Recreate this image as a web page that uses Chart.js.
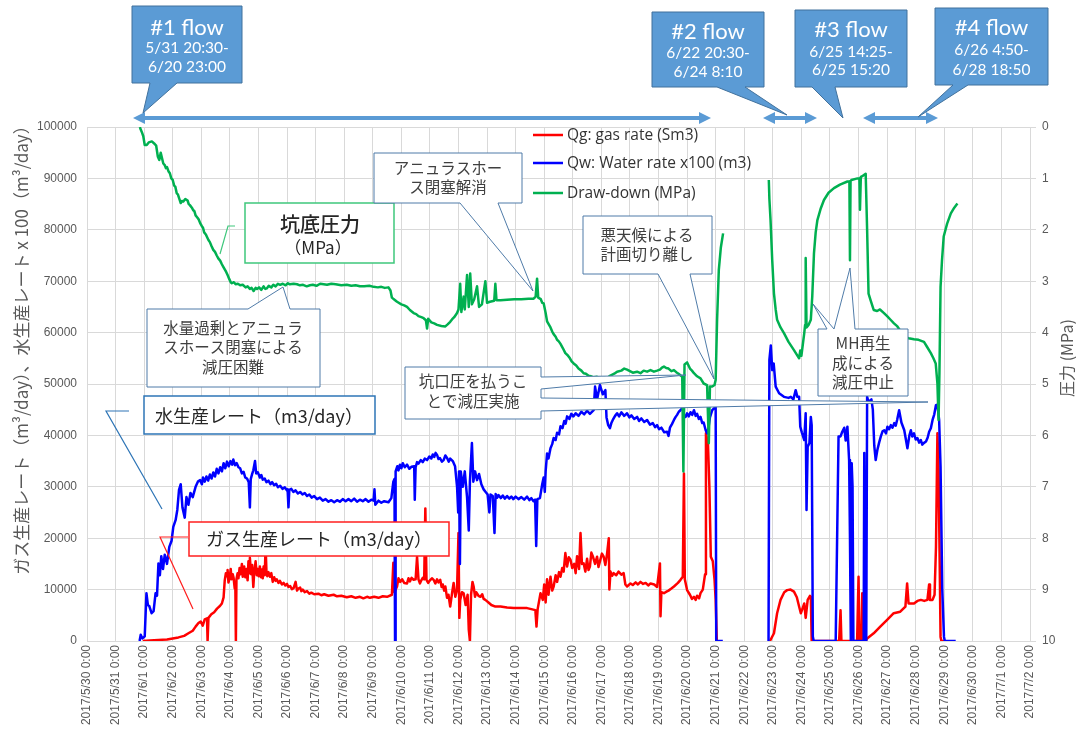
<!DOCTYPE html>
<html>
<head>
<meta charset="utf-8">
<script src="https://cdn.jsdelivr.net/npm/chart.js@4/dist/chart.umd.min.js"></script>
<style>
  html, body { margin: 0; padding: 0; background: #ffffff; }
  #wrap { width: 1076px; height: 737px; position: relative; }
</style>
</head>
<body>
<div id="wrap"><canvas id="c" width="1076" height="737"></canvas></div>
<script>
// Day ticks, counted in days from 2017/5/30 0:00
const tickLabels = [
  "2017/5/30 0:00", "2017/5/31 0:00", "2017/6/1 0:00", "2017/6/2 0:00", "2017/6/3 0:00",
  "2017/6/4 0:00", "2017/6/5 0:00", "2017/6/6 0:00", "2017/6/7 0:00", "2017/6/8 0:00",
  "2017/6/9 0:00", "2017/6/10 0:00", "2017/6/11 0:00", "2017/6/12 0:00", "2017/6/13 0:00",
  "2017/6/14 0:00", "2017/6/15 0:00", "2017/6/16 0:00", "2017/6/17 0:00", "2017/6/18 0:00",
  "2017/6/19 0:00", "2017/6/20 0:00", "2017/6/21 0:00", "2017/6/22 0:00", "2017/6/23 0:00",
  "2017/6/24 0:00", "2017/6/25 0:00", "2017/6/26 0:00", "2017/6/27 0:00", "2017/6/28 0:00",
  "2017/6/29 0:00", "2017/6/30 0:00", "2017/7/1 0:00", "2017/7/2 0:00"
];

// Qg: gas rate (Sm3) — [day, m3/day]
const gasRate = [
  [1.95,0],[2.20,100],[2.50,200],[2.80,300],[3.00,500],[3.20,700],[3.40,1000],[3.55,1500],[3.70,2000],
  [3.80,2800],[3.90,3500],[3.98,3800],[4.05,3000],[4.12,4200],[4.20,4400],[4.22,0],[4.25,4500],[4.35,5200],
  [4.45,5600],[4.55,6300],[4.65,6800],[4.72,7300],[4.78,8500],[4.82,11800],[4.86,13200],[4.90,12600],
  [4.92,13800],[4.95,11400],[4.99,12200],[5.03,14000],[5.06,12000],[5.10,13000],[5.13,12300],[5.17,10200],
  [5.19,11500],[5.21,0],[5.23,12000],[5.27,13200],[5.30,12200],[5.34,14200],[5.38,13000],[5.42,15000],
  [5.45,12500],[5.50,14500],[5.54,12400],[5.58,14000],[5.62,11800],[5.65,15500],[5.68,13200],[5.70,16200],
  [5.74,13000],[5.78,14800],[5.82,10500],[5.85,13200],[5.90,15500],[5.94,12800],[5.97,14000],[6.01,12600],
  [6.05,14500],[6.09,12400],[6.12,13900],[6.15,12200],[6.18,14500],[6.22,12800],[6.25,18500],[6.28,13500],
  [6.31,12600],[6.35,13400],[6.40,12500],[6.45,13200],[6.50,11500],[6.55,12400],[6.60,11700],[6.64,12000],
  [6.70,11300],[6.75,11700],[6.82,11000],[6.88,11300],[6.94,10800],[7.00,11100],[7.05,10500],[7.11,10700],
  [7.17,10100],[7.23,10300],[7.30,11500],[7.35,9800],[7.40,10200],[7.46,10400],[7.50,9700],[7.55,10000],
  [7.62,9500],[7.70,9700],[7.78,9200],[7.85,9400],[7.95,9100],[8.10,9200],[8.20,8900],[8.30,9100],
  [8.45,8800],[8.63,9000],[8.75,8700],[8.90,8800],[9.09,8500],[9.25,8700],[9.40,8400],[9.55,8600],
  [9.67,8300],[9.80,8600],[9.90,8400],[10.05,8600],[10.20,8400],[10.35,8700],[10.50,8600],
  [10.67,9000],[10.72,15200],[10.76,9500],[10.85,10600],[10.90,12200],[10.96,11500],[11.03,12000],[11.10,11300],
  [11.20,11200],[11.25,12200],[11.30,11600],[11.36,12300],[11.43,11900],[11.50,12000],[11.55,16400],[11.60,12000],
  [11.65,11200],[11.70,11800],[11.75,12300],[11.80,12000],[11.84,25800],[11.88,11900],[11.94,11300],
  [12.00,11800],[12.07,12200],[12.13,11900],[12.19,11200],[12.25,12000],[12.30,11400],[12.36,11900],
  [12.41,10500],[12.45,11000],[12.50,9800],[12.54,10600],[12.60,8400],[12.65,9000],[12.71,6700],[12.78,9500],
  [12.83,11300],[12.89,8600],[12.95,10000],[13.00,21000],[13.03,4500],[13.06,8000],[13.12,9500],[13.18,9300],
  [13.25,7000],[13.32,9000],[13.36,2200],[13.40,0],[13.44,9000],[13.49,11500],[13.53,10600],[13.58,8600],
  [13.62,9500],[13.70,8800],[13.77,8600],[13.83,9100],[13.88,8200],[13.94,8000],[14.05,7500],[14.15,7000],
  [14.29,6700],[14.47,6700],[14.70,6500],[14.93,6400],[15.20,6400],[15.40,6400],[15.55,6200],
  [15.69,6000],[15.73,2800],[15.77,6200],[15.87,9300],[15.95,8000],[16.00,11000],[16.05,7500],[16.10,12000],
  [16.15,9000],[16.22,12500],[16.28,9800],[16.33,10600],[16.40,12800],[16.45,11500],[16.52,13400],
  [16.57,12500],[16.63,14200],[16.68,13500],[16.74,17100],[16.80,14500],[16.86,16300],[16.92,15800],
  [16.98,14200],[17.05,15000],[17.10,13200],[17.15,16500],[17.22,14000],[17.27,21000],[17.32,15000],
  [17.38,15100],[17.44,13500],[17.50,16000],[17.55,13800],[17.60,14500],[17.65,17200],[17.70,16500],
  [17.78,15000],[17.85,16400],[17.90,14400],[17.95,15500],[18.02,17000],[18.08,16400],[18.14,14800],
  [18.20,17000],[18.26,20000],[18.28,10000],[18.32,13500],[18.38,12700],[18.43,13200],[18.52,12800],
  [18.60,13500],[18.70,12900],[18.78,13200],[18.84,11000],[18.90,10600],[19.02,11200],[19.10,10900],
  [19.20,11400],[19.28,11000],[19.37,11500],[19.46,11100],[19.55,11300],[19.64,10800],[19.72,11200],
  [19.85,11000],[19.95,10500],[20.05,15100],[20.07,4800],[20.10,9500],[20.19,9300],[20.28,9600],[20.35,9800],
  [20.45,10200],[20.54,10600],[20.68,11300],[20.77,11900],[20.85,12500],[20.89,32600],[20.92,12000],[21.00,9900],
  [21.10,9000],[21.17,8200],[21.24,8600],[21.30,8000],[21.35,8800],[21.42,8300],[21.47,9300],[21.55,10000],
  [21.63,13000],[21.66,40400],[21.73,38500],[21.78,30000],[21.83,16400],[21.90,15500],[21.96,12000],
  [22.00,8000],[22.04,0],
  [23.00,null],
  [23.90,0],[24.04,1500],[24.15,5400],[24.27,8000],[24.40,9500],[24.50,9900],[24.62,10000],[24.74,9600],
  [24.84,8500],[24.92,6700],[24.98,5400],[25.05,6500],[25.10,7300],[25.15,4500],[25.22,8000],[25.30,8800],
  [25.33,8600],[25.36,0],[26.32,0],[26.37,6000],[26.40,0],[26.95,0],[27.00,12500],[27.03,0],[27.10,0],
  [27.13,9300],[27.16,0],[27.25,0],[27.30,500],[27.53,1500],[27.76,2800],[28.00,4100],[28.23,5400],
  [28.46,5700],[28.64,6700],[28.70,11200],[28.75,7300],[28.94,7300],[29.06,7800],[29.18,8000],[29.30,7800],
  [29.41,8000],[29.47,11000],[29.50,8000],[29.59,8000],[29.66,9000],[29.71,18300],[29.76,40400],
  [29.80,33300],[29.84,15000],[29.87,800],[29.90,0],[30.00,0]
];

// Qw: water rate x100 (m3) — [day, m3/day]
const waterRate = [
  [1.84,0],[1.88,1200],[1.94,500],[2.02,900],[2.08,9300],[2.13,7000],[2.18,6800],[2.26,5400],[2.33,5800],
  [2.40,9300],[2.45,8800],[2.50,15100],[2.55,12800],[2.60,16500],[2.66,14000],[2.72,16800],[2.80,15000],
  [2.88,18300],[2.96,19500],[3.02,22200],[3.10,23500],[3.16,25500],[3.22,29400],[3.28,30500],[3.34,26000],
  [3.42,24000],[3.48,28000],[3.55,26500],[3.62,28800],[3.70,28000],[3.80,30000],[3.88,31000],[3.96,31300],
  [4.02,30500],[4.06,31800],[4.12,31000],[4.18,32000],[4.24,31200],[4.30,32400],[4.36,31600],[4.42,32800],
  [4.48,32000],[4.54,33500],[4.60,32600],[4.66,33800],[4.72,33000],[4.78,34600],[4.84,33600],[4.90,34900],
  [4.96,34000],[5.02,35000],[5.08,34300],[5.12,35300],[5.18,34200],[5.24,34600],[5.30,33800],[5.36,33600],
  [5.42,32600],[5.48,32900],[5.54,31800],[5.60,31600],[5.66,30900],[5.70,26000],[5.73,31500],[5.78,32500],
  [5.82,33200],[5.88,35000],[5.92,32600],[5.98,32800],[6.05,31800],[6.10,32300],[6.15,31400],[6.22,31600],
  [6.28,30900],[6.35,31200],[6.42,30500],[6.48,30900],[6.55,30300],[6.62,30600],[6.68,29900],[6.76,30200],
  [6.84,29600],[6.92,29900],[7.00,29300],[7.02,29500],[7.05,26000],[7.08,29400],[7.15,29600],[7.22,29000],
  [7.30,29300],[7.38,28700],[7.46,29000],[7.54,28500],[7.62,28800],[7.70,28200],[7.78,28500],[7.86,27900],
  [7.95,28200],[8.05,27600],[8.15,27900],[8.25,27300],[8.35,27600],[8.45,27100],[8.55,27400],[8.65,27000],
  [8.75,27400],[8.85,27100],[8.95,27600],[9.05,27200],[9.15,27600],[9.25,27200],[9.35,27700],[9.45,27100],
  [9.55,27500],[9.65,27200],[9.75,27600],[9.85,27100],[9.95,27500],[10.03,27300],[10.06,29500],[10.09,26500],
  [10.20,27300],[10.30,26900],[10.40,27200],[10.55,27000],[10.65,27800],[10.72,31000],[10.76,31500],
  [10.78,0],[10.80,33000],[10.86,34000],[10.90,33200],[10.95,34300],[11.00,33600],[11.05,34600],[11.12,33800],
  [11.20,34300],[11.28,33500],[11.35,33900],[11.45,34000],[11.47,27500],[11.50,33800],[11.55,34800],
  [11.60,34500],[11.68,35200],[11.75,34800],[11.82,35500],[11.90,35200],[11.98,35900],[12.05,35500],
  [12.10,36300],[12.15,35800],[12.20,36600],[12.25,36200],[12.30,35400],[12.35,35600],[12.42,34900],
  [12.48,35200],[12.54,36100],[12.60,35600],[12.66,34900],[12.71,35500],[12.80,35000],[12.88,34000],
  [12.95,30000],[12.99,25000],[13.02,33000],[13.05,15000],[13.08,33000],[13.15,30000],[13.22,33000],
  [13.30,28000],[13.36,21500],[13.40,31000],[13.47,38500],[13.52,31000],[13.58,33000],[13.65,31300],
  [13.72,32500],[13.80,30500],[13.88,29500],[13.95,29000],[14.02,28500],[14.08,25000],[14.12,28500],
  [14.20,28200],[14.26,21000],[14.30,28600],[14.36,27900],[14.40,28400],[14.48,27800],[14.55,28300],
  [14.62,27700],[14.70,28200],[14.78,27700],[14.85,28100],[14.92,27600],[15.00,28100],[15.10,27600],
  [15.20,28000],[15.30,27500],[15.40,28100],[15.48,27400],[15.55,27800],[15.62,27200],[15.68,27500],
  [15.72,18500],[15.76,27600],[15.85,27800],[15.93,30500],[15.98,31800],[16.02,29000],[16.05,33000],
  [16.10,36500],[16.15,35500],[16.22,37500],[16.28,38300],[16.33,39500],[16.40,39100],[16.45,40500],
  [16.52,40200],[16.57,41800],[16.64,41400],[16.70,42800],[16.75,42300],[16.80,43700],[16.88,43200],
  [16.95,44200],[17.02,43700],[17.10,44300],[17.20,43800],[17.30,44600],[17.40,44100],[17.50,44800],
  [17.60,44200],[17.73,44900],[17.78,49500],[17.85,47000],[17.95,49800],[18.05,48000],[18.14,48800],
  [18.18,43500],[18.24,42000],[18.30,41400],[18.35,42400],[18.40,43000],[18.48,43800],[18.55,44300],
  [18.62,43700],[18.70,44500],[18.80,43800],[18.90,44300],[18.98,43500],[19.05,43900],[19.15,43200],
  [19.25,43600],[19.32,42800],[19.40,43300],[19.50,42600],[19.60,43000],[19.70,42100],[19.80,42400],
  [19.88,41600],[19.95,42000],[20.02,41200],[20.10,41500],[20.20,40600],[20.30,40700],[20.35,39900],
  [20.40,41500],[20.47,42200],[20.54,43000],[20.60,43600],[20.65,44000],[20.71,44600],[20.77,44900],
  [20.85,45500],[20.89,44000],[20.95,43600],[21.00,44300],[21.06,43700],[21.12,44500],[21.18,44000],
  [21.24,44900],[21.30,43800],[21.35,44200],[21.41,43200],[21.47,43600],[21.53,42400],[21.58,42500],
  [21.65,41000],[21.70,40400],[21.75,41500],[21.80,43500],[21.88,44900],[21.95,45300],[22.00,45500],
  [22.02,0],[22.25,0],
  [23.00,null],
  [23.85,0],[23.88,54700],[23.93,57500],[23.98,52700],[24.03,54000],[24.10,49500],[24.22,48200],
  [24.39,47500],[24.55,47300],[24.63,47500],[24.72,47000],[24.80,48800],[24.86,47500],[24.92,47500],
  [24.96,41700],[25.02,40500],[25.10,39100],[25.15,44300],[25.18,25500],[25.22,37800],[25.28,38500],
  [25.33,43600],[25.36,42000],[25.40,900],[25.43,0],[26.20,0],[26.24,15800],[26.30,39800],[26.37,39800],
  [26.43,40700],[26.50,41500],[26.55,39000],[26.61,41700],[26.67,35200],[26.70,20000],[26.73,0],
  [26.76,34600],[26.79,30000],[26.82,0],[27.18,0],[27.20,36600],[27.23,0],[27.27,0],[27.30,47500],
  [27.35,46500],[27.45,47000],[27.50,45000],[27.55,38000],[27.60,35200],[27.66,37200],[27.72,38600],
  [27.78,39800],[27.84,40800],[27.90,41000],[27.96,40400],[28.01,41700],[28.07,41200],[28.13,42000],
  [28.19,41500],[28.25,42400],[28.30,41900],[28.35,43000],[28.42,44900],[28.50,42500],[28.60,41000],
  [28.71,37500],[28.78,40000],[28.83,41000],[28.88,39800],[28.94,40400],[29.00,39200],[29.06,39500],
  [29.12,38600],[29.18,39100],[29.23,38200],[29.28,38500],[29.36,38800],[29.42,39600],[29.47,40700],
  [29.53,41400],[29.59,43000],[29.65,44100],[29.71,45900],[29.76,46000],[29.82,43000],[29.87,33900],
  [29.93,10000],[29.99,800],[30.02,0],[30.40,0]
];

// Draw-down (MPa) — [day, MPa]
const drawDown = [
  [1.85,0],[1.88,0.05],[1.92,0.10],[1.97,0.18],[2.02,0.35],[2.09,0.35],[2.16,0.30],[2.27,0.28],[2.35,0.32],
  [2.42,0.36],[2.48,0.58],[2.53,0.64],[2.58,0.50],[2.67,0.71],[2.72,0.74],[2.76,0.80],[2.80,0.78],
  [2.85,0.86],[2.90,0.90],[2.95,1.00],[3.00,1.03],[3.05,1.14],[3.09,1.16],[3.14,1.29],[3.18,1.31],
  [3.22,1.38],[3.28,1.48],[3.32,1.44],[3.37,1.45],[3.44,1.40],[3.52,1.43],[3.56,1.50],[3.60,1.52],
  [3.67,1.57],[3.72,1.62],[3.76,1.64],[3.80,1.72],[3.86,1.76],[3.91,1.80],[3.96,1.87],[4.02,1.93],
  [4.06,1.96],[4.10,2.05],[4.16,2.09],[4.20,2.14],[4.25,2.20],[4.30,2.24],[4.36,2.32],[4.42,2.39],
  [4.48,2.43],[4.54,2.50],[4.60,2.56],[4.66,2.60],[4.72,2.67],[4.77,2.72],[4.82,2.77],[4.87,2.82],
  [4.92,2.88],[4.98,2.96],[5.03,3.02],[5.07,3.04],[5.14,3.02],[5.20,3.06],[5.28,3.05],[5.36,3.08],
  [5.45,3.07],[5.55,3.12],[5.62,3.10],[5.70,3.15],[5.76,3.13],[5.83,3.19],[5.90,3.13],[5.95,3.15],
  [6.02,3.12],[6.10,3.17],[6.18,3.10],[6.24,3.15],[6.29,3.14],[6.36,3.09],[6.45,3.12],[6.52,3.07],
  [6.60,3.10],[6.68,3.05],[6.76,3.07],[6.85,3.05],[6.95,3.08],[7.02,3.04],[7.10,3.06],[7.23,3.05],
  [7.35,3.06],[7.45,3.08],[7.56,3.07],[7.69,3.10],[7.80,3.08],[7.90,3.07],[8.03,3.09],[8.16,3.05],
  [8.28,3.06],[8.40,3.07],[8.55,3.05],[8.70,3.06],[8.90,3.08],[9.09,3.07],[9.25,3.09],[9.40,3.08],
  [9.55,3.10],[9.70,3.10],[9.88,3.09],[10.03,3.11],[10.18,3.12],[10.30,3.11],[10.42,3.13],[10.55,3.12],
  [10.62,3.18],[10.67,3.32],[10.76,3.36],[10.85,3.40],[11.00,3.45],[11.10,3.47],[11.20,3.50],[11.30,3.56],
  [11.43,3.62],[11.52,3.64],[11.60,3.68],[11.70,3.70],[11.78,3.72],[11.86,3.76],[11.90,3.92],[11.94,3.73],
  [12.05,3.80],[12.15,3.82],[12.25,3.85],[12.40,3.87],[12.54,3.88],[12.62,3.84],[12.71,3.79],[12.78,3.74],
  [12.85,3.70],[12.95,3.62],
  [13.00,3.55],[13.06,3.05],[13.10,3.60],[13.18,3.30],[13.22,3.55],[13.30,2.88],[13.36,3.50],[13.41,2.85],
  [13.47,3.45],[13.55,3.35],[13.65,3.10],[13.72,3.50],[13.82,3.45],[13.94,3.00],[14.00,3.42],[14.10,3.40],
  [14.25,3.38],[14.29,3.05],[14.33,3.37],[14.47,3.37],[14.70,3.36],[14.95,3.35],[15.20,3.35],[15.45,3.34],
  [15.63,3.34],[15.70,3.30],[15.75,2.95],[15.79,3.32],[15.88,3.35],[15.93,3.42],[15.98,3.43],[16.05,3.62],
  [16.10,3.78],[16.16,3.84],[16.22,3.90],[16.28,3.98],[16.33,4.03],[16.40,4.08],[16.45,4.14],[16.51,4.17],
  [16.57,4.22],[16.65,4.30],[16.74,4.40],[16.82,4.44],[16.90,4.50],[16.96,4.56],[17.03,4.60],[17.12,4.64],
  [17.20,4.70],[17.30,4.74],[17.38,4.79],[17.46,4.80],[17.55,4.84],[17.63,4.85],[17.73,4.87],[17.85,4.86],
  [18.00,4.89],[18.10,4.87],[18.20,4.89],[18.30,4.84],[18.45,4.80],[18.55,4.76],[18.70,4.74],[18.80,4.70],
  [18.90,4.72],[19.00,4.75],[19.10,4.78],[19.25,4.76],[19.37,4.79],[19.48,4.74],[19.60,4.76],[19.72,4.73],
  [19.84,4.76],[19.95,4.74],[20.05,4.72],[20.12,4.68],[20.19,4.66],[20.27,4.69],[20.35,4.70],[20.45,4.75],
  [20.54,4.73],[20.62,4.77],[20.70,4.80],[20.83,4.86],[20.87,6.70],[20.91,4.62],[21.00,4.58],[21.10,4.70],
  [21.17,4.74],[21.24,4.79],[21.35,4.85],[21.47,4.89],[21.58,4.99],[21.70,5.02],[21.76,6.15],[21.80,5.05],
  [21.88,5.05],[21.96,5.02],[22.00,4.92],[22.05,3.75],[22.11,2.78],[22.18,2.35],[22.26,2.07],
  [23.00,null],
  [23.86,1.03],[23.88,1.40],[23.92,1.81],[23.98,2.60],[24.04,3.24],[24.10,3.55],[24.15,3.75],[24.27,3.90],
  [24.39,4.01],[24.55,4.18],[24.74,4.34],[24.92,4.50],[24.96,4.35],[25.00,4.45],[25.10,4.01],[25.13,3.85],
  [25.15,2.55],[25.18,3.90],[25.25,3.85],[25.33,3.75],[25.38,3.30],[25.44,2.46],[25.50,2.05],[25.56,1.81],
  [25.68,1.58],[25.79,1.42],[25.95,1.28],[26.14,1.19],[26.35,1.12],[26.61,1.06],[26.68,1.06],[26.70,2.59],
  [26.72,1.05],[26.75,1.03],[26.96,1.00],[27.03,1.00],[27.05,1.61],[27.08,0.97],[27.15,0.95],[27.25,0.91],
  [27.30,2.00],[27.35,3.24],[27.42,3.37],[27.53,3.56],[27.65,3.58],[27.75,3.55],[27.89,3.62],[28.00,3.68],
  [28.12,3.75],[28.24,3.82],[28.36,3.88],[28.48,3.98],[28.59,4.08],[28.75,4.11],[28.94,4.13],[29.10,4.14],
  [29.29,4.18],[29.40,4.28],[29.53,4.40],[29.62,4.50],[29.70,4.60],[29.76,4.99],[29.80,5.70],[29.83,4.80],
  [29.87,3.11],[29.92,2.60],[29.98,2.13],[30.10,1.88],[30.23,1.68],[30.35,1.57],[30.46,1.49]
];

const seriesNames = ["Qg: gas rate (Sm3)", "Qw: Water rate x100 (m3)", "Draw-down (MPa)"];
const seriesColors = ["#FF0000", "#0000FF", "#00B050"];

const toPoints = arr => arr.map(([x, y]) => ({ x, y }));

const JP = '"Noto Sans CJK JP", "Noto Sans", sans-serif';
const LAT = 'Lato, "Open Sans", sans-serif';

function poly(ctx, pts, fill, stroke, lw) {
  ctx.beginPath();
  ctx.moveTo(pts[0][0], pts[0][1]);
  for (let i = 1; i < pts.length; i++) ctx.lineTo(pts[i][0], pts[i][1]);
  ctx.closePath();
  if (fill) { ctx.fillStyle = fill; ctx.fill(); }
  if (stroke) { ctx.strokeStyle = stroke; ctx.lineWidth = lw || 1; ctx.stroke(); }
}
function textLines(ctx, rows, x, font, color) {
  ctx.font = font;
  ctx.fillStyle = color;
  ctx.textAlign = "center";
  ctx.textBaseline = "middle";
  rows.forEach(([t, y]) => ctx.fillText(t, x, y));
}
function polyline(ctx, pts, color, lw) {
  ctx.beginPath();
  ctx.moveTo(pts[0][0], pts[0][1]);
  for (let i = 1; i < pts.length; i++) ctx.lineTo(pts[i][0], pts[i][1]);
  ctx.strokeStyle = color; ctx.lineWidth = lw; ctx.stroke();
}
function doubleArrow(ctx, x1, x2, y, color) {
  const hl = 12, hw = 6;
  ctx.strokeStyle = color; ctx.lineWidth = 4;
  ctx.beginPath(); ctx.moveTo(x1 + hl - 1, y); ctx.lineTo(x2 - hl + 1, y); ctx.stroke();
  poly(ctx, [[x1, y], [x1 + hl, y - hw], [x1 + hl, y + hw]], color);
  poly(ctx, [[x2, y], [x2 - hl, y - hw], [x2 - hl, y + hw]], color);
}
function vText(ctx, text, x, y, font, color) {
  ctx.save();
  ctx.translate(x, y);
  ctx.rotate(-Math.PI / 2);
  ctx.font = font; ctx.fillStyle = color;
  ctx.textAlign = "center"; ctx.textBaseline = "middle";
  ctx.fillText(text, 0, 0);
  ctx.restore();
}

// Axis titles, legend, callouts and flow-period markers
const overlay = {
  id: "overlay",
  afterDraw(chart) {
    const ctx = chart.ctx;
    ctx.save();

    // axis titles
    vText(ctx, "ガス生産レート（m³/day）、水生産レート x 100（m³/day）", 22, 346, "17px " + JP, "#595959");
    vText(ctx, "圧力 (MPa)", 1067, 358, "16px " + JP, "#595959");

    // legend
    const legY = [135, 163, 193];
    seriesNames.forEach((name, i) => {
      polyline(ctx, [[533, legY[i]], [563, legY[i]]], seriesColors[i], 2.5);
      ctx.font = '15.5px "Open Sans", sans-serif';
      ctx.fillStyle = "#333333";
      ctx.textAlign = "left"; ctx.textBaseline = "middle";
      ctx.fillText(name, 567, legY[i] + 1);
    });

    // flow period arrows
    const flowBlue = "#5B9BD5";
    doubleArrow(ctx, 133, 711, 118, flowBlue);
    doubleArrow(ctx, 763, 817, 118, flowBlue);
    doubleArrow(ctx, 863, 938, 118, flowBlue);

    // flow period callouts
    const flows = [
      { r: [132, 6, 242, 83], b: [150, 177], tip: [143, 113], t: ["#1 flow", "5/31 20:30-", "6/20 23:00"], ty: [28, 48, 67] },
      { r: [652, 12, 764, 87], b: [717, 745], tip: [787, 115], t: ["#2 flow", "6/22 20:30-", "6/24 8:10"], ty: [32, 53, 72] },
      { r: [795, 10, 907, 87], b: [812, 835], tip: [843, 118], t: ["#3 flow", "6/25 14:25-", "6/25 15:20"], ty: [30, 52, 70] },
      { r: [935, 8, 1048, 85], b: [953, 968], tip: [918, 117], t: ["#4 flow", "6/26 4:50-", "6/28 18:50"], ty: [28, 50, 70] }
    ];
    flows.forEach(f => {
      const [x1, y1, x2, y2] = f.r;
      poly(ctx, [[x1, y1], [x2, y1], [x2, y2], [f.b[1], y2], f.tip, [f.b[0], y2], [x1, y2]], flowBlue, "#41719C", 1);
      const cx = (x1 + x2) / 2;
      textLines(ctx, [[f.t[0], f.ty[0]]], cx, "22px " + LAT, "#ffffff");
      textLines(ctx, [[f.t[1], f.ty[1]], [f.t[2], f.ty[2]]], cx, "15.5px " + LAT, "#ffffff");
    });

    // series label boxes with leader lines
    const green = "#3FC77C";
    polyline(ctx, [[235, 226], [228, 226], [220, 254]], green, 1.2);
    poly(ctx, [[245, 203], [394, 203], [394, 263], [245, 263]], "#ffffff", green, 1.5);
    textLines(ctx, [["坑底圧力", 224]], 320, "500 20px " + JP, "#262626");
    textLines(ctx, [["（MPa）", 248]], 318, "17px " + JP, "#262626");

    const wblue = "#2E75B6";
    polyline(ctx, [[129, 411], [106, 411], [162, 509]], wblue, 1.2);
    poly(ctx, [[144, 396], [375, 396], [375, 434], [144, 434]], "#ffffff", wblue, 1.5);
    textLines(ctx, [["水生産レート（m3/day）", 416]], 259, "18px " + JP, "#262626");

    const gred = "#FF1F1F";
    polyline(ctx, [[188, 537], [160, 537], [193, 609]], gred, 1.2);
    poly(ctx, [[189, 522], [449, 522], [449, 556], [189, 556]], "#ffffff", gred, 1.5);
    textLines(ctx, [["ガス生産レート（m3/day）", 539]], 319, "18px " + JP, "#262626");

    // comment callouts
    const cStroke = "#4F7BA8";
    const cFont = "15.5px " + JP;
    const cText = "#404040";

    poly(ctx, [[147, 309], [248, 309], [283, 287], [290, 309], [320, 309], [320, 387], [147, 387]], "#ffffff", cStroke, 1);
    textLines(ctx, [["水量過剰とアニュラ", 328], ["スホース閉塞による", 347], ["減圧困難", 367]], 233, cFont, cText);

    poly(ctx, [[374, 153], [522, 153], [522, 203], [498, 203], [533, 291], [460, 203], [374, 203]], "#ffffff", cStroke, 1);
    textLines(ctx, [["アニュラスホー", 168], ["ス閉塞解消", 187]], 448, cFont, cText);

    poly(ctx, [[583, 216], [712, 216], [712, 274], [690, 274], [714, 379], [658, 274], [583, 274]], "#ffffff", cStroke, 1);
    textLines(ctx, [["悪天候による", 235], ["計画切り離し", 254]], 647, cFont, cText);

    poly(ctx, [[405, 367], [541, 367], [541, 377], [686, 375], [541, 389], [541, 398], [928, 402], [541, 411], [541, 419], [405, 419]], "#ffffff", cStroke, 1);
    textLines(ctx, [["坑口圧を払うこ", 381], ["とで減圧実施", 401]], 473, cFont, cText);

    poly(ctx, [[818, 329], [827, 329], [813, 304], [834, 329], [850, 268], [855, 329], [908, 329], [908, 396], [818, 396]], "#ffffff", cStroke, 1);
    textLines(ctx, [["MH再生", 343], ["成による", 363], ["減圧中止", 382]], 863, cFont, cText);

    ctx.restore();
  }
};

const tickFont = { family: '"Liberation Sans", Arial, sans-serif', size: 12 };
const gridColor = "#D9D9D9";

new Chart(document.getElementById("c"), {
  type: "line",
  data: {
    datasets: [
      { label: seriesNames[2], data: toPoints(drawDown), yAxisID: "yP", borderColor: seriesColors[2], order: 0 },
      { label: seriesNames[1], data: toPoints(waterRate), yAxisID: "yQ", borderColor: seriesColors[1], order: 1 },
      { label: seriesNames[0], data: toPoints(gasRate), yAxisID: "yQ", borderColor: seriesColors[0], order: 2 }
    ]
  },
  options: {
    responsive: false,
    animation: false,
    devicePixelRatio: 1,
    spanGaps: false,
    elements: {
      point: { radius: 0, hoverRadius: 0 },
      line: { borderWidth: 2.5, tension: 0, fill: false, borderJoinStyle: "round" }
    },
    layout: { padding: { top: 127, left: 0, right: 0, bottom: 0 } },
    plugins: { legend: { display: false }, tooltip: { enabled: false } },
    scales: {
      x: {
        type: "linear", position: "bottom", min: 0, max: 33,
        ticks: {
          stepSize: 1, autoSkip: false, maxRotation: 90, minRotation: 90, padding: 4,
          color: "#595959", font: tickFont,
          callback: v => tickLabels[Math.round(v)]
        },
        grid: { color: gridColor, lineWidth: 1, drawTicks: false },
        border: { color: gridColor },
        afterFit: s => { s.height = 96; }
      },
      yQ: {
        type: "linear", position: "left", min: 0, max: 100000,
        ticks: { stepSize: 10000, padding: 10, color: "#595959", font: tickFont, callback: v => String(v) },
        grid: { color: gridColor, lineWidth: 1, drawTicks: false },
        border: { color: gridColor },
        afterFit: s => { s.width = 87; }
      },
      yP: {
        type: "linear", position: "right", min: 0, max: 10, reverse: true,
        ticks: { stepSize: 1, padding: 6, color: "#595959", font: tickFont, callback: v => String(v) },
        grid: { drawOnChartArea: false, color: gridColor, tickLength: 6 },
        border: { color: gridColor },
        afterFit: s => { s.width = 46; }
      }
    }
  },
  plugins: [overlay]
});
</script>
</body>
</html>
